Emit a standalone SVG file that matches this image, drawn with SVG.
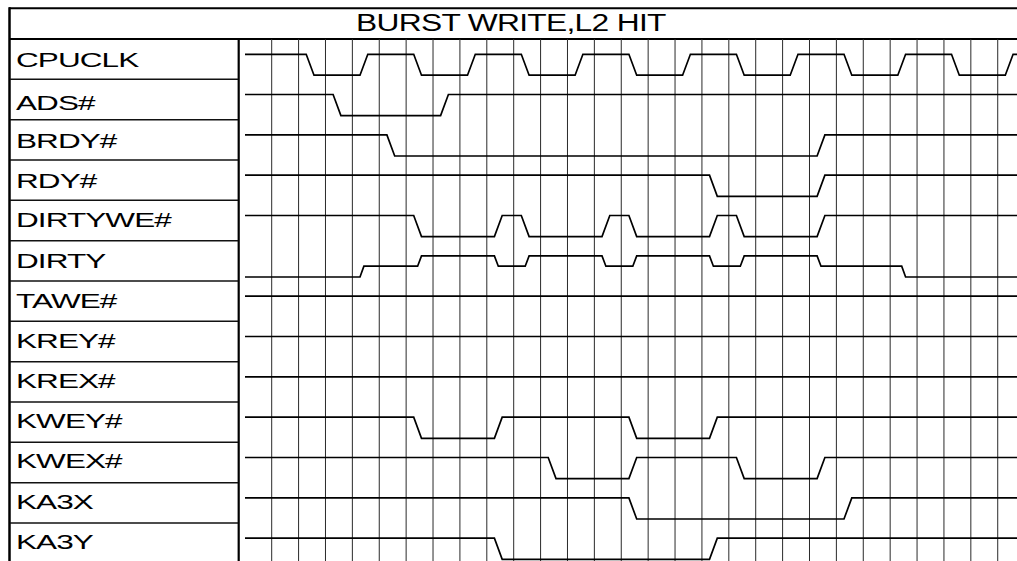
<svg xmlns="http://www.w3.org/2000/svg" width="1017" height="561" viewBox="0 0 1017 561">
<style>
.lbl{font-family:"Liberation Sans",Arial,sans-serif;font-size:21px;fill:#000;letter-spacing:-0.6px}
.ttl{font-family:"Liberation Sans",Arial,sans-serif;font-size:23.5px;fill:#000;letter-spacing:-0.5px}
.wave{fill:none;stroke:#000;stroke-width:1.7;stroke-linejoin:miter}
.grid{stroke:#2a2a2a;stroke-width:1}
.frame{stroke:#000;fill:none}
.div{stroke:#111;stroke-width:1.5}
</style>
<rect width="1017" height="561" fill="#fff"/>
<g id="frame">
<line class="frame" x1="9" y1="8.3" x2="1017" y2="8.3" stroke-width="2"/>
<line class="frame" x1="9.5" y1="7.3" x2="9.5" y2="561" stroke-width="2.5"/>
<line class="frame" x1="9" y1="39" x2="1017" y2="39" stroke-width="1.8"/>
<line class="frame" x1="238.7" y1="39" x2="238.7" y2="561" stroke-width="2.2"/>
<text class="ttl" transform="translate(356,31) scale(1.35,1)">BURST WRITE,L2 HIT</text>
</g>
<g id="grid">
<line class="grid" x1="271.69" y1="39" x2="271.69" y2="561"/>
<line class="grid" x1="298.58" y1="39" x2="298.58" y2="561"/>
<line class="grid" x1="325.47" y1="39" x2="325.47" y2="561"/>
<line class="grid" x1="352.36" y1="39" x2="352.36" y2="561"/>
<line class="grid" x1="379.25" y1="39" x2="379.25" y2="561"/>
<line class="grid" x1="406.14" y1="39" x2="406.14" y2="561"/>
<line class="grid" x1="433.03" y1="39" x2="433.03" y2="561"/>
<line class="grid" x1="459.92" y1="39" x2="459.92" y2="561"/>
<line class="grid" x1="486.81" y1="39" x2="486.81" y2="561"/>
<line class="grid" x1="513.70" y1="39" x2="513.70" y2="561"/>
<line class="grid" x1="540.59" y1="39" x2="540.59" y2="561"/>
<line class="grid" x1="567.48" y1="39" x2="567.48" y2="561"/>
<line class="grid" x1="594.37" y1="39" x2="594.37" y2="561"/>
<line class="grid" x1="621.26" y1="39" x2="621.26" y2="561"/>
<line class="grid" x1="648.15" y1="39" x2="648.15" y2="561"/>
<line class="grid" x1="675.04" y1="39" x2="675.04" y2="561"/>
<line class="grid" x1="701.93" y1="39" x2="701.93" y2="561"/>
<line class="grid" x1="728.82" y1="39" x2="728.82" y2="561"/>
<line class="grid" x1="755.71" y1="39" x2="755.71" y2="561"/>
<line class="grid" x1="782.60" y1="39" x2="782.60" y2="561"/>
<line class="grid" x1="809.49" y1="39" x2="809.49" y2="561"/>
<line class="grid" x1="836.38" y1="39" x2="836.38" y2="561"/>
<line class="grid" x1="863.27" y1="39" x2="863.27" y2="561"/>
<line class="grid" x1="890.16" y1="39" x2="890.16" y2="561"/>
<line class="grid" x1="917.05" y1="39" x2="917.05" y2="561"/>
<line class="grid" x1="943.94" y1="39" x2="943.94" y2="561"/>
<line class="grid" x1="970.83" y1="39" x2="970.83" y2="561"/>
<line class="grid" x1="997.72" y1="39" x2="997.72" y2="561"/>
</g>
<g id="dividers">
<line class="div" x1="10" y1="79.33" x2="238" y2="79.33"/>
<line class="div" x1="10" y1="119.66" x2="238" y2="119.66"/>
<line class="div" x1="10" y1="160" x2="238" y2="160"/>
<line class="div" x1="10" y1="200.33" x2="238" y2="200.33"/>
<line class="div" x1="10" y1="240.66" x2="238" y2="240.66"/>
<line class="div" x1="10" y1="281" x2="238" y2="281"/>
<line class="div" x1="10" y1="321.33" x2="238" y2="321.33"/>
<line class="div" x1="10" y1="361.66" x2="238" y2="361.66"/>
<line class="div" x1="10" y1="402" x2="238" y2="402"/>
<line class="div" x1="10" y1="442.33" x2="238" y2="442.33"/>
<line class="div" x1="10" y1="482.66" x2="238" y2="482.66"/>
<line class="div" x1="10" y1="523" x2="238" y2="523"/>
</g>
<g id="sig-cpuclk">
<text class="lbl" transform="translate(16,66.7) scale(1.5,1)">CPUCLK</text>
<path class="wave" d="M245,54.3 H306.2 L314.0,75.2 H360.0 L367.8,54.3 H413.7 L421.5,75.2 H467.5 L475.3,54.3 H521.3 L529.1,75.2 H575.1 L582.9,54.3 H628.9 L636.7,75.2 H682.6 L690.4,54.3 H736.4 L744.2,75.2 H790.2 L798.0,54.3 H844.0 L851.8,75.2 H897.8 L905.6,54.3 H951.5 L959.3,75.2 H1005.3 L1013.1,54.3 H1017"/>
</g>
<g id="sig-ads">
<text class="lbl" transform="translate(16,109.5) scale(1.5,1)">ADS#</text>
<path class="wave" d="M245,94.5 H333.1 L340.9,115.6 H440.6 L448.4,94.5 H1017"/>
</g>
<g id="sig-brdy">
<text class="lbl" transform="translate(16,148.3) scale(1.5,1)">BRDY#</text>
<path class="wave" d="M245,134.9 H386.9 L394.7,156.0 H817.1 L824.9,134.9 H1017"/>
</g>
<g id="sig-rdy">
<text class="lbl" transform="translate(16,188) scale(1.5,1)">RDY#</text>
<path class="wave" d="M245,175.2 H709.5 L717.3,196.3 H817.1 L824.9,175.2 H1017"/>
</g>
<g id="sig-dirtywe">
<text class="lbl" transform="translate(16,226.7) scale(1.5,1)">DIRTYWE#</text>
<path class="wave" d="M245,215.5 H413.7 L421.5,236.6 H494.4 L502.2,215.5 H521.3 L529.1,236.6 H602.0 L609.8,215.5 H628.9 L636.7,236.6 H709.5 L717.3,215.5 H736.4 L744.2,236.6 H817.1 L824.9,215.5 H1017"/>
</g>
<g id="sig-dirty">
<text class="lbl" transform="translate(16,267.7) scale(1.5,1)">DIRTY</text>
<path class="wave" d="M245,277.0 H360.0 L363.9,266.2 H417.6 L421.5,255.9 H494.4 L498.3,266.2 H525.2 L529.1,255.9 H602.0 L605.9,266.2 H632.8 L636.7,255.9 H709.5 L713.4,266.2 H740.3 L744.2,255.9 H817.1 L821.0,266.2 H901.7 L905.6,277.0 H1017"/>
</g>
<g id="sig-tawe">
<text class="lbl" transform="translate(16,307.7) scale(1.5,1)">TAWE#</text>
<path class="wave" d="M245,296.2 H1017"/>
</g>
<g id="sig-krey">
<text class="lbl" transform="translate(16,347.7) scale(1.5,1)">KREY#</text>
<path class="wave" d="M245,336.5 H1017"/>
</g>
<g id="sig-krex">
<text class="lbl" transform="translate(16,388.3) scale(1.5,1)">KREX#</text>
<path class="wave" d="M245,376.9 H1017"/>
</g>
<g id="sig-kwey">
<text class="lbl" transform="translate(16,427.7) scale(1.5,1)">KWEY#</text>
<path class="wave" d="M245,417.2 H413.7 L421.5,438.3 H494.4 L502.2,417.2 H628.9 L636.7,438.3 H709.5 L717.3,417.2 H1017"/>
</g>
<g id="sig-kwex">
<text class="lbl" transform="translate(16,468.3) scale(1.5,1)">KWEX#</text>
<path class="wave" d="M245,457.5 H548.2 L556.0,478.6 H628.9 L636.7,457.5 H736.4 L744.2,478.6 H817.1 L824.9,457.5 H1017"/>
</g>
<g id="sig-ka3x">
<text class="lbl" transform="translate(16,509) scale(1.5,1)">KA3X</text>
<path class="wave" d="M245,497.9 H628.9 L636.7,519.0 H844.0 L851.8,497.9 H1017"/>
</g>
<g id="sig-ka3y">
<text class="lbl" transform="translate(16,549) scale(1.5,1)">KA3Y</text>
<path class="wave" d="M245,538.2 H494.4 L502.2,559.3 H709.5 L717.3,538.2 H1017"/>
</g>
<g id="connectors"/>
</svg>
